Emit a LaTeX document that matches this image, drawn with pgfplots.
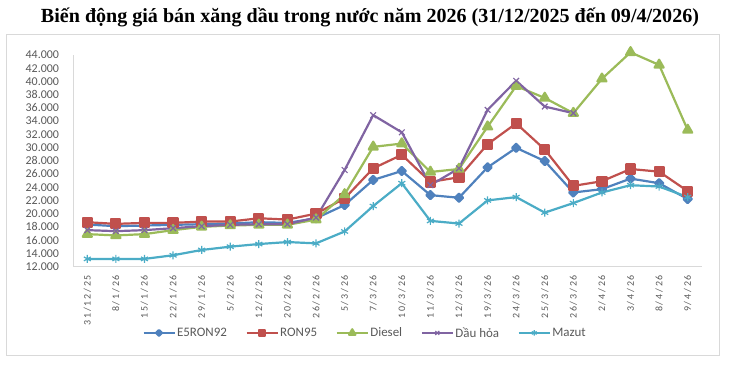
\documentclass[border=0pt]{standalone}
\usepackage{graphicx}
\usepackage{pgfplots}
\pgfplotsset{compat=1.18}
\usepackage{fontspec}
\setmainfont{Carlito}
\newfontfamily\titlefont{Liberation Serif}
\newfontfamily\spacedfont[LetterSpace=18]{Carlito}
\definecolor{cE}{HTML}{4F81BD}
\definecolor{cR}{HTML}{C0504D}
\definecolor{cD}{HTML}{9BBB59}
\definecolor{cK}{HTML}{8064A2}
\definecolor{cM}{HTML}{4BACC6}
\definecolor{labgray}{HTML}{595959}
\definecolor{framegray}{HTML}{D9D9D9}
\begin{document}
\begin{tikzpicture}[x=1bp,y=1bp]
\useasboundingbox (0,0) rectangle (737,366);
\draw[color=framegray, line width=1bp] (6,11) rectangle (719,332);
\node[inner sep=0pt] at (370,349) {\resizebox{658bp}{!}{\titlefont\bfseries Biến động giá bán xăng dầu trong nước năm 2026 (31/12/2025 đến 09/4/2026)}};
\begin{axis}[
  at={(73bp,99.5bp)}, anchor=south west,
  scale only axis, width=629bp, height=211.5bp,
  xmin=-0.5, xmax=21.5, ymin=12, ymax=44,
  clip=false,
  axis lines*=left,
  axis line style={draw=framegray, line width=1bp},
  major tick length=0pt,
  ytick={12,14,...,44},
  yticklabel={\pgfmathparse{int(round(\tick))}\pgfmathresult.000},
  yticklabel style={font=\fontsize{12}{12}\selectfont, text=labgray, anchor=east, inner sep=0pt, outer xsep=14bp},
  xtick={0,...,21},
  xticklabels={31/12/25,8/1/26,15/1/26,22/1/26,29/1/26,5/2/26,12/2/26,20/2/26,26/2/26,5/3/26,7/3/26,10/3/26,11/3/26,12/3/26,19/3/26,24/3/26,25/3/26,26/3/26,2/4/26,3/4/26,8/4/26,9/4/26},
  xticklabel style={font=\fontsize{10}{10}\selectfont\spacedfont, text=labgray, rotate=90, anchor=east, inner sep=0pt, outer xsep=8.5bp},
  legend columns=-1,
  legend style={draw=none, fill=none, at={(0.464,-0.314)}, anchor=center,
    font=\fontsize{13}{13}\selectfont, text=labgray,
    /tikz/every even column/.append style={column sep=17bp},
    nodes={inner sep=1.5bp}},
  legend image code/.code={\draw[mark repeat=2,mark phase=2, every mark/.append style={scale=0.7}] plot coordinates {(0bp,0bp) (15.5bp,0bp) (31bp,0bp)};},
  every axis plot/.append style={line width=2.2bp, line join=round},
]
\addplot[color=cE, mark=square*, mark size=2.9bp, mark options={rotate=45, solid}] coordinates {
(0,18.35)(1,18.1)(2,18.2)(3,18.3)(4,18.4)(5,18.5)(6,18.7)(7,18.6)(8,19.3)(9,21.3)(10,25.1)(11,26.45)(12,22.8)(13,22.4)(14,27.0)(15,29.95)(16,27.95)(17,23.2)(18,23.7)(19,25.3)(20,24.6)(21,22.2)};
\addlegendentry{E5RON92}
\addplot[color=cR, mark=square*, mark size=4.5bp, mark options={solid}] coordinates {
(0,18.7)(1,18.45)(2,18.6)(3,18.6)(4,18.8)(5,18.8)(6,19.3)(7,19.1)(8,20.0)(9,22.3)(10,26.85)(11,28.9)(12,24.8)(13,25.5)(14,30.5)(15,33.65)(16,29.7)(17,24.2)(18,24.9)(19,26.75)(20,26.35)(21,23.4)};
\addlegendentry{RON95}
\addplot[color=cD, mark=triangle*, mark size=5.2bp, mark options={solid}] coordinates {
(0,16.9)(1,16.7)(2,16.9)(3,17.5)(4,18.0)(5,18.2)(6,18.3)(7,18.3)(8,19.1)(9,22.9)(10,30.1)(11,30.6)(12,26.3)(13,26.75)(14,33.15)(15,39.3)(16,37.5)(17,35.2)(18,40.4)(19,44.4)(20,42.5)(21,32.65)};
\addlegendentry{Diesel}
\addplot[color=cK, mark=x, mark size=4bp, mark options={solid, line width=1.2bp}] coordinates {
(0,17.5)(1,17.35)(2,17.5)(3,17.8)(4,18.1)(5,18.3)(6,18.4)(7,18.4)(8,19.4)(9,26.6)(10,34.9)(11,32.3)(12,24.3)(13,26.85)(14,35.7)(15,40.1)(16,36.2)(17,35.2)};
\addlegendentry{Dầu hỏa}
\addplot[color=cM, mark=asterisk, mark size=4bp, mark options={solid, line width=1.2bp}] coordinates {
(0,13.15)(1,13.15)(2,13.15)(3,13.7)(4,14.5)(5,15.0)(6,15.4)(7,15.7)(8,15.5)(9,17.3)(10,21.15)(11,24.6)(12,18.9)(13,18.5)(14,22.0)(15,22.5)(16,20.15)(17,21.6)(18,23.2)(19,24.3)(20,24.1)(21,22.5)};
\addlegendentry{Mazut}
\end{axis}
\end{tikzpicture}
\end{document}
